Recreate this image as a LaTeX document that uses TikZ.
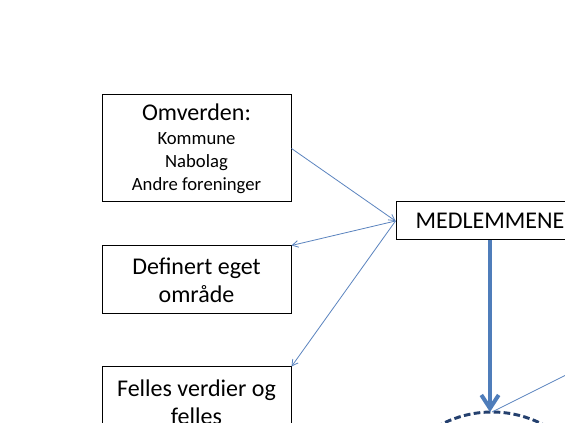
\documentclass[tikz,border=0pt]{standalone}
\usepackage{fontspec}
\setmainfont{Carlito}
\usetikzlibrary{arrows.meta}
\definecolor{thinblue}{HTML}{5B84BF}
\definecolor{thickblue}{HTML}{4F7DBA}
\definecolor{navy}{HTML}{24406E}
\tikzset{
  box/.style={draw=black, line width=0.75pt, minimum width=141.75pt, inner sep=0pt, align=center},
  bigtext/.style={font=\fontsize{18}{21}\selectfont},
  thin/.style={draw=thinblue, line width=0.6pt, -{Straight Barb[length=4.5pt,width=5pt]}},
  thick/.style={draw=thickblue, line width=3pt, -{Straight Barb[length=10pt,width=13pt,line width=3pt]}},
  dashcircle/.style={draw=navy, line width=2.2pt, dash pattern=on 5pt off 2.5pt}
}
\begin{document}
\begin{tikzpicture}[x=0.75pt,y=-0.75pt]
\clip (0,0) rectangle (565,423);
\fill[white] (0,0) rectangle (565,423);
\node[box, minimum height=80.25pt, font=\fontsize{14}{16.9}\selectfont] (omv) at (196.5,148.5)
  {{\fontsize{18}{18}\selectfont Omverden:}\\[1.5pt]Kommune\\Nabolag\\Andre foreninger};
\node[box, bigtext, minimum height=51pt] (def) at (196.5,280)
  {Definert eget\\område};
\node[box, bigtext, minimum height=52.5pt] (fel) at (196.5,402)
  {Felles verdier og\\felles};
\node[box, bigtext, minimum width=141pt, minimum height=28.5pt] (med) at (490,221)
  {MEDLEMMENE};
\coordinate (ctop) at (492,412);
\coordinate (cout) at (570,373);
\draw[dashcircle] (492,522) circle[radius=110];
\draw[thin] (omv.east) -- (med.west);
\draw[thin] (med.west) -- (def.north east);
\draw[thin] (med.west) -- (fel.north east);
\draw[thin, -] (ctop) -- (cout);
\draw[thick] (med.south) -- (med.south |- ctop);
\end{tikzpicture}
\end{document}
